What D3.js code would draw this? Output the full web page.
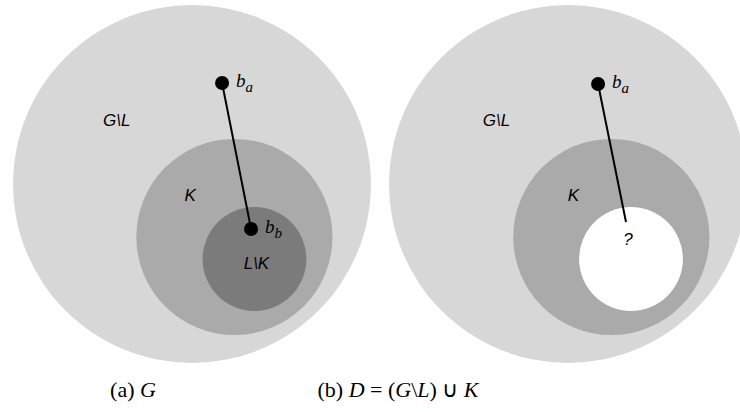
<!DOCTYPE html>
<html>
<head>
<meta charset="utf-8">
<script src="https://cdn.jsdelivr.net/npm/d3@7"></script>
<style>
  body { margin: 0; background: #fff; }
  svg { display: block; }
</style>
</head>
<body>
<div id="chart"></div>
<script>
// panel layout: each panel uses a unit system where the outer set G is
// centred at (0,0) with radius 1
var panels = [
  {id: "a", offset: 192},
  {id: "b", offset: 568}
];

// nested sets
var setsA = [
  {name: "G", cx: 0, cy: 0, r: 1, fill: "#d7d7d7"},
  {name: "K", cx: 0.237, cy: 0.296, r: 0.548, fill: "#aaaaaa"},
  {name: "L\\K", cx: 0.349, cy: 0.419, r: 0.29, fill: "#7b7b7b"}
];
var setsB = [
  {name: "G", cx: 0, cy: 0, r: 1, fill: "#d7d7d7"},
  {name: "K", cx: 0.242, cy: 0.296, r: 0.548, fill: "#aaaaaa"},
  {name: "hole", cx: 0.352, cy: 0.419, r: 0.29, fill: "#ffffff"}
];

// region labels
var labelsA = [
  {text: "G\\L", x: -0.42, y: -0.325},
  {text: "K", x: -0.01, y: 0.095},
  {text: "L\\K", x: 0.36, y: 0.475}
];
var labelsB = [
  {text: "G\\L", x: -0.40, y: -0.325},
  {text: "K", x: 0.03, y: 0.095},
  {text: "?", x: 0.335, y: 0.34}
];

// points and edge
var pointsA = [
  {sub: "a", x: 0.168, y: -0.564},
  {sub: "b", x: 0.33, y: 0.251}
];
var pointsB = [
  {sub: "a", x: 0.168, y: -0.559}
];
var edgeA = {x1: 0.168, y1: -0.564, x2: 0.33, y2: 0.251};
var edgeB = {x1: 0.168, y1: -0.559, x2: 0.324, y2: 0.212};

var width = 740, height = 412;
var R = 179, cy0 = 184;

var svg = d3.select("#chart").append("svg")
  .attr("width", width)
  .attr("height", height);

var panelData = [
  {sets: setsA, labels: labelsA, points: pointsA, edge: edgeA},
  {sets: setsB, labels: labelsB, points: pointsB, edge: edgeB}
];

panels.forEach(function(p, i) {
  var d = panelData[i];
  var x = d3.scaleLinear().domain([-1, 1]).range([p.offset - R, p.offset + R]);
  var y = d3.scaleLinear().domain([-1, 1]).range([cy0 - R, cy0 + R]);
  var s = function(v) { return v * R; };

  var g = svg.append("g").attr("class", "panel-" + p.id);

  g.selectAll("circle.set")
    .data(d.sets)
    .enter().append("circle")
      .attr("class", "set")
      .attr("cx", function(c) { return x(c.cx); })
      .attr("cy", function(c) { return y(c.cy); })
      .attr("r", function(c) { return s(c.r); })
      .attr("fill", function(c) { return c.fill; });

  g.selectAll("text.region")
    .data(d.labels)
    .enter().append("text")
      .attr("class", "region")
      .attr("x", function(l) { return x(l.x); })
      .attr("y", function(l) { return y(l.y); })
      .attr("text-anchor", "middle")
      .style("font-family", "Liberation Sans, Arial, sans-serif")
      .style("font-style", "italic")
      .style("font-size", "17px")
      .text(function(l) { return l.text; });

  g.append("line")
    .attr("x1", x(d.edge.x1)).attr("y1", y(d.edge.y1))
    .attr("x2", x(d.edge.x2)).attr("y2", y(d.edge.y2))
    .attr("stroke", "#000")
    .attr("stroke-width", 2);

  g.selectAll("circle.pt")
    .data(d.points)
    .enter().append("circle")
      .attr("class", "pt")
      .attr("cx", function(q) { return x(q.x); })
      .attr("cy", function(q) { return y(q.y); })
      .attr("r", 7)
      .attr("fill", "#000");

  var lab = g.selectAll("text.pt")
    .data(d.points)
    .enter().append("text")
      .attr("class", "pt")
      .attr("x", function(q) { return x(q.x) + 14; })
      .attr("y", function(q) { return y(q.y) + 4; })
      .style("font-family", "Liberation Serif, Times New Roman, serif")
      .style("font-style", "italic")
      .style("font-size", "19px");
  lab.append("tspan").text("b");
  lab.append("tspan")
    .attr("dy", 5)
    .style("font-size", "15px")
    .text(function(q) { return q.sub; });
});

// captions
var capFont = "Liberation Serif, Times New Roman, serif";
var cap1 = svg.append("text")
  .attr("x", 133).attr("y", 397)
  .attr("text-anchor", "middle")
  .style("font-family", capFont)
  .style("font-size", "22px");
cap1.append("tspan").text("(a) ");
cap1.append("tspan").style("font-style", "italic").text("G");

var cap2 = svg.append("text")
  .attr("x", 398).attr("y", 397)
  .attr("text-anchor", "middle")
  .style("font-family", capFont)
  .style("font-size", "22px");
cap2.append("tspan").text("(b) ");
cap2.append("tspan").style("font-style", "italic").text("D");
cap2.append("tspan").text(" = (");
cap2.append("tspan").style("font-style", "italic").text("G");
cap2.append("tspan").text("\\");
cap2.append("tspan").style("font-style", "italic").text("L");
cap2.append("tspan").text(") \u222A ");
cap2.append("tspan").style("font-style", "italic").text("K");
</script>
</body>
</html>
